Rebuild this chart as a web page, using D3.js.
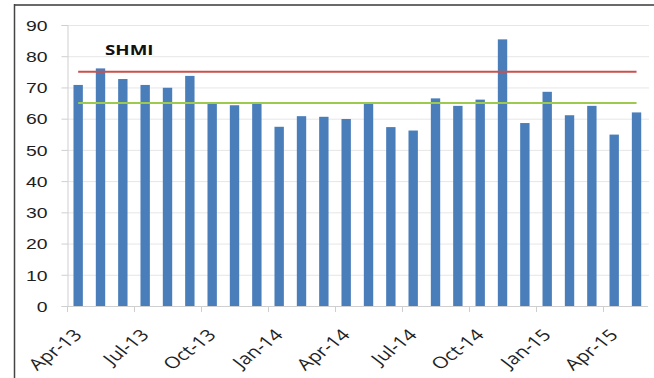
<!DOCTYPE html>
<html>
<head>
<meta charset="utf-8">
<script src="https://cdn.jsdelivr.net/npm/d3@7"></script>
<style>
  html, body { margin: 0; padding: 0; background: #ffffff; }
  svg { display: block; font-family: "Open Sans", "DejaVu Sans", sans-serif; }
</style>
</head>
<body>
<svg id="chart" width="654" height="378"></svg>
<script>
// Monthly SHMI values, April 2013 – May 2015
const months = ["Apr-13","May-13","Jun-13","Jul-13","Aug-13","Sep-13","Oct-13","Nov-13","Dec-13",
                "Jan-14","Feb-14","Mar-14","Apr-14","May-14","Jun-14","Jul-14","Aug-14","Sep-14",
                "Oct-14","Nov-14","Dec-14","Jan-15","Feb-15","Mar-15","Apr-15","May-15"];
const shmi = [70.8, 76.1, 72.7, 70.8, 69.9, 73.7, 64.9, 64.3, 64.9,
              57.4, 60.8, 60.6, 59.9, 64.9, 57.3, 56.2, 66.5, 64.1,
              66.1, 85.4, 58.6, 68.6, 61.1, 64.1, 54.9, 62.0];
const upperLimit = 75;
const lowerLimit = 65;
const yTicks = [0, 10, 20, 30, 40, 50, 60, 70, 80, 90];
const labelEvery = 3;

const svg = d3.select("#chart");
const sx = 1.25;   // horizontal text stretch
const sxTick = 1.3; // stretch for the slanted month labels

// outer frame lines
svg.append("line").attr("x1", 14).attr("x2", 654).attr("y1", 5).attr("y2", 5)
  .attr("stroke", "#6a6a6a").attr("stroke-width", 2);
svg.append("line").attr("x1", 14.5).attr("x2", 14.5).attr("y1", 4).attr("y2", 378)
  .attr("stroke", "#444").attr("stroke-width", 1.5);

const x = d3.scaleBand().domain(months).range([67, 647.7]).paddingInner(0.58).paddingOuter(0.29);
const y = d3.scaleLinear().domain([0, 90]).range([306, 25]);

// gridlines
svg.append("g").selectAll("line").data(yTicks.filter(v => v > 0)).join("line")
  .attr("x1", 67).attr("x2", 649)
  .attr("y1", d => y(d) + 0.5).attr("y2", d => y(d) + 0.5)
  .attr("stroke", "#e6e6e6").attr("stroke-width", 1);

// y axis
const yAxis = svg.append("g").attr("transform", "translate(67.5,0)")
  .call(d3.axisLeft(y).tickValues(yTicks).tickSize(6).tickPadding(20).tickFormat(d3.format("d")));
yAxis.select(".domain").attr("stroke", "#cfcfcf");
yAxis.selectAll(".tick line").attr("stroke", "#cfcfcf");
yAxis.selectAll(".tick text")
  .attr("font-size", 15.5).attr("fill", "#1e1e1e")
  .attr("x", null).attr("dy", null)
  .attr("dominant-baseline", "central")
  .attr("transform", `translate(-20,0) scale(${sx},1)`);

// bars
svg.append("g").selectAll("rect").data(months).join("rect")
  .attr("x", d => x(d))
  .attr("width", x.bandwidth())
  .attr("y", (d, i) => y(shmi[i]))
  .attr("height", (d, i) => y(0) - y(shmi[i]))
  .attr("fill", "#4a7ebb");

// x axis
const xAxisG = svg.append("g");
xAxisG.append("line").attr("x1", 67).attr("x2", 648).attr("y1", 306.5).attr("y2", 306.5)
  .attr("stroke", "#cfcfcf");
const step = x.step();
const boundaries = d3.range(0, months.length, labelEvery);
xAxisG.selectAll(".tk").data(boundaries).join("line").attr("class", "tk")
  .attr("x1", i => 67 + i * step + 0.5).attr("x2", i => 67 + i * step + 0.5)
  .attr("y1", 306).attr("y2", 312).attr("stroke", "#cfcfcf");
xAxisG.selectAll("text").data(boundaries).join("text")
  .attr("transform", i => `translate(${x(months[i]) + x.bandwidth() / 2 + 5},${336}) scale(${sxTick},1) rotate(-45)`)
  .attr("text-anchor", "end")
  .attr("font-size", 16)
  .attr("fill", "#1e1e1e")
  .text(i => months[i]);

// threshold lines
const x0 = x(months[0]) + x.bandwidth() / 2;
const x1 = x(months[months.length - 1]) + x.bandwidth() / 2;
svg.append("line").attr("x1", x0).attr("x2", x1)
  .attr("y1", y(upperLimit)).attr("y2", y(upperLimit))
  .attr("stroke", "#c9504d").attr("stroke-width", 2);
svg.append("line").attr("x1", x0).attr("x2", x1)
  .attr("y1", y(lowerLimit)).attr("y2", y(lowerLimit))
  .attr("stroke", "#9cc94e").attr("stroke-width", 2);

// series label
svg.append("text")
  .attr("transform", `translate(105,55) scale(${sx},1)`)
  .attr("font-size", 15).attr("font-weight", "bold").attr("fill", "#111")
  .text("SHMI");
</script>
</body>
</html>
